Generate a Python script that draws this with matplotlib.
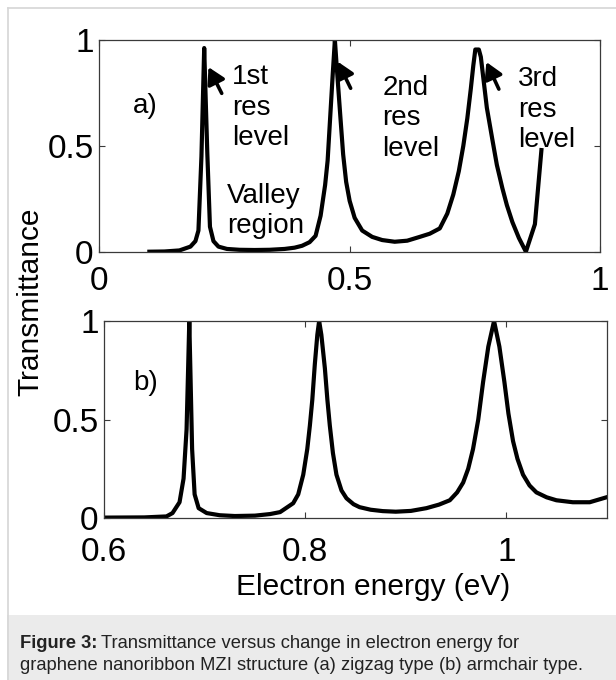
import matplotlib
matplotlib.use("Agg")
import matplotlib.pyplot as plt
from matplotlib.patches import Rectangle
from matplotlib.lines import Line2D
from matplotlib.ticker import FixedLocator, FixedFormatter

plt.rcParams['font.family'] = ['Liberation Sans', 'DejaVu Sans']

# ---------------- data ----------------
# (a) zigzag GNR MZI
energy_a = [0.100, 0.130, 0.160, 0.182, 0.192, 0.198, 0.204, 0.2095, 0.2125, 0.2157,
            0.221, 0.228, 0.238, 0.255, 0.280, 0.310, 0.340, 0.370, 0.390, 0.405,
            0.420, 0.432, 0.442, 0.451, 0.456, 0.461, 0.466, 0.4705, 0.474, 0.478,
            0.482, 0.487, 0.493, 0.500, 0.510, 0.525, 0.545, 0.565, 0.590, 0.615,
            0.640, 0.660, 0.680, 0.695, 0.707, 0.718, 0.727, 0.735, 0.742, 0.747,
            0.751, 0.758, 0.762, 0.767, 0.774, 0.785, 0.794, 0.805, 0.814, 0.825,
            0.838, 0.852, 0.870, 0.883]
trans_a = [0.000, 0.001, 0.006, 0.024, 0.050, 0.100, 0.450, 0.962, 0.720, 0.466,
           0.118, 0.050, 0.024, 0.013, 0.009, 0.008, 0.009, 0.013, 0.019, 0.028,
           0.045, 0.075, 0.170, 0.315, 0.430, 0.630, 0.830, 1.000, 0.880, 0.750,
           0.620, 0.460, 0.330, 0.240, 0.160, 0.100, 0.070, 0.055, 0.047, 0.052,
           0.070, 0.085, 0.110, 0.180, 0.270, 0.380, 0.500, 0.630, 0.770, 0.880,
           0.955, 0.955, 0.920, 0.820, 0.680, 0.530, 0.410, 0.300, 0.220, 0.140,
           0.065, 0.000, 0.130, 0.480]

# (b) armchair GNR MZI
energy_b = [0.600, 0.640, 0.662, 0.668, 0.675, 0.679, 0.682, 0.6835, 0.6847, 0.686,
            0.6875, 0.690, 0.694, 0.702, 0.715, 0.730, 0.750, 0.765, 0.775, 0.788,
            0.793, 0.798, 0.802, 0.8046, 0.807, 0.8095, 0.812, 0.8138, 0.816, 0.8195,
            0.822, 0.8244, 0.8275, 0.831, 0.836, 0.841, 0.848, 0.854, 0.865, 0.877,
            0.890, 0.905, 0.9205, 0.933, 0.9437, 0.951, 0.957, 0.962, 0.9668, 0.972,
            0.9768, 0.982, 0.9877, 0.993, 0.998, 1.002, 1.0066, 1.011, 1.0165, 1.023,
            1.0298, 1.040, 1.0497, 1.066, 1.0828, 1.0994]
trans_b = [0.002, 0.003, 0.008, 0.025, 0.080, 0.200, 0.450, 0.750, 1.000, 0.700,
           0.350, 0.120, 0.050, 0.025, 0.014, 0.010, 0.012, 0.020, 0.030, 0.075,
           0.120, 0.220, 0.350, 0.470, 0.600, 0.780, 0.930, 1.000, 0.930, 0.760,
           0.600, 0.470, 0.330, 0.220, 0.140, 0.100, 0.070, 0.055, 0.042, 0.035,
           0.032, 0.036, 0.050, 0.068, 0.090, 0.130, 0.180, 0.250, 0.350, 0.500,
           0.690, 0.870, 1.000, 0.870, 0.690, 0.530, 0.390, 0.300, 0.220, 0.165,
           0.130, 0.105, 0.090, 0.080, 0.080, 0.105]

xticks_a = [0, 0.5, 1]
xticklabels_a = ["0", "0.5", "1"]
xticks_b = [0.6, 0.8, 1.0]
xticklabels_b = ["0.6", "0.8", "1"]
yticks = [0, 0.5, 1]
yticklabels = ["0", "0.5", "1"]

# annotation texts (label, x, y)
notes_a = [("1st\nres\nlevel", 0.265, 0.885),
           ("2nd\nres\nlevel", 0.565, 0.835),
           ("3rd\nres\nlevel", 0.836, 0.875),
           ("Valley\nregion", 0.255, 0.325)]
arrows_a = [((0.2445, 0.748), (0.218, 0.872)),
            ((0.502, 0.772), (0.476, 0.898)),
            ((0.798, 0.768), (0.773, 0.896))]

# ---------------- figure ----------------
W, H = 616, 680
fig = plt.figure(figsize=(W / 100, H / 100), dpi=100)
fig.patch.set_facecolor('white')

# caption background and page border
fig.patches.append(Rectangle((7 / W, 0), 1, (H - 615) / H, transform=fig.transFigure,
                             facecolor='#ebebeb', edgecolor='none', zorder=0))
fig.lines.append(Line2D([7.5 / W, 7.5 / W], [0, 1 - 7.5 / H], transform=fig.transFigure,
                        color='#d6d6d6', lw=1.2))
fig.lines.append(Line2D([7.5 / W, 1], [1 - 7.5 / H, 1 - 7.5 / H], transform=fig.transFigure,
                        color='#d6d6d6', lw=1.2))

ax1 = fig.add_axes([99.3 / W, (H - 251.7) / H, 500.7 / W, 211.7 / H])
ax2 = fig.add_axes([104.1 / W, (H - 518) / H, 502.9 / W, 197 / H])

tick_fs = 24
for ax, xpad in ((ax1, 10), (ax2, 13.5)):
    for s in ax.spines.values():
        s.set_color('#3a3a3a')
        s.set_linewidth(0.9)
    ax.tick_params(direction='in', length=4.5, width=0.8, color='#3a3a3a',
                   top=True, right=True, labelsize=tick_fs)
    ax.tick_params(axis='y', pad=4)
    ax.tick_params(axis='x', pad=xpad)
    ax.yaxis.set_major_locator(FixedLocator(yticks))
    ax.yaxis.set_major_formatter(FixedFormatter(yticklabels))
    ax.set_ylim(0, 1)

ax1.plot(energy_a, trans_a, color='black', lw=3, solid_joinstyle='round')
ax1.set_xlim(0, 1)
ax1.xaxis.set_major_locator(FixedLocator(xticks_a))
ax1.xaxis.set_major_formatter(FixedFormatter(xticklabels_a))

ax2.plot(energy_b, trans_b, color='black', lw=3, solid_joinstyle='round')
ax2.set_xlim(0.6, 1.1)
ax2.xaxis.set_major_locator(FixedLocator(xticks_b))
ax2.xaxis.set_major_formatter(FixedFormatter(xticklabels_b))

note_fs = 20
ax1.text(0.091, 0.69, "a)", fontsize=note_fs, ha='center', va='center')
ax2.text(0.641, 0.685, "b)", fontsize=note_fs, ha='center', va='center')
for txt, x, y in notes_a:
    ax1.text(x, y, txt, fontsize=note_fs, ha='left', va='top', linespacing=1.22)
for (tail, head) in arrows_a:
    ax1.annotate('', xy=head, xytext=tail,
                 arrowprops=dict(arrowstyle='-|>,head_length=0.7,head_width=0.4',
                                 lw=2.6, color='black', mutation_scale=14,
                                 shrinkA=0, shrinkB=0))

fig.text(30 / W, 1 - 302 / H, "Transmittance", rotation=90, fontsize=21.5,
         ha='center', va='center')
fig.text(373 / W, 1 - 595 / H, "Electron energy (eV)", fontsize=21.5,
         ha='center', va='baseline')

# caption
cap_fs = 13.25
t1 = fig.text(20 / W, 1 - 648 / H, "Figure 3:", fontsize=cap_fs, fontweight='bold',
              color='#222222', va='baseline')
fig.canvas.draw()
bb = t1.get_window_extent(renderer=fig.canvas.get_renderer())
fig.text((bb.x1 + 4) / W, 1 - 648 / H,
         "Transmittance versus change in electron energy for",
         fontsize=cap_fs, color='#222222', va='baseline')
fig.text(20 / W, 1 - 670 / H,
         "graphene nanoribbon MZI structure (a) zigzag type (b) armchair type.",
         fontsize=cap_fs, color='#222222', va='baseline')

fig.savefig("out.png", dpi=100, facecolor='white')
